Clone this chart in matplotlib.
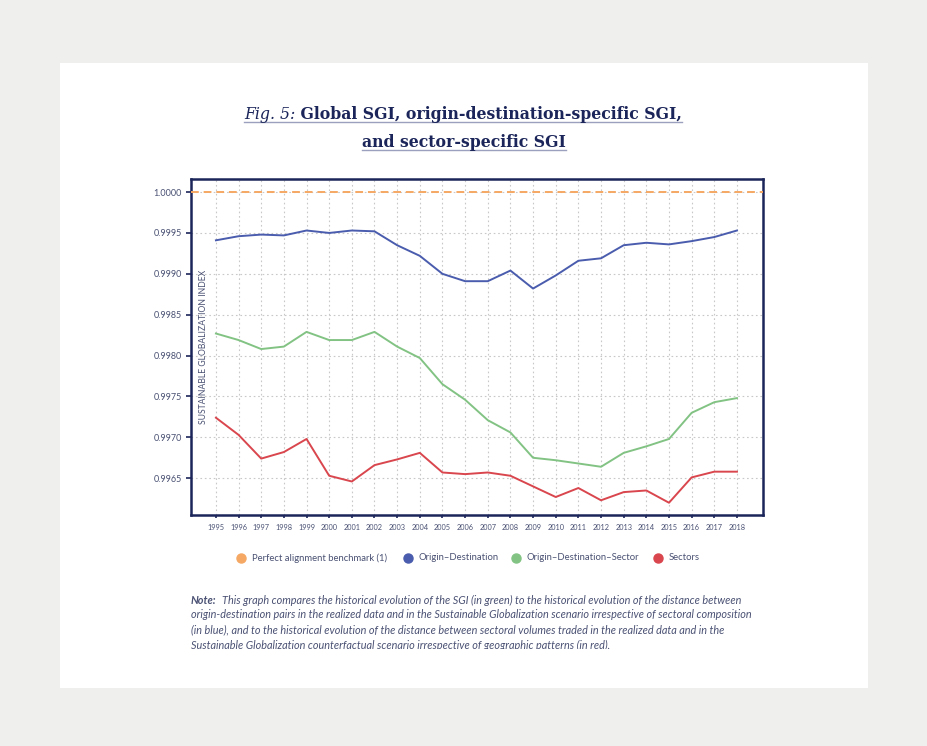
import numpy as np
import matplotlib
matplotlib.use("Agg")
import matplotlib.pyplot as plt
from matplotlib.patches import Rectangle
from matplotlib.lines import Line2D
from matplotlib.transforms import Bbox, TransformedBbox

years = list(range(1995, 2019))
origin_dest = [0.99941, 0.99946, 0.99948, 0.99947, 0.99953, 0.99950, 0.99953, 0.99952,
               0.99935, 0.99922, 0.99900, 0.99891, 0.99891, 0.99904, 0.99882, 0.99898,
               0.99916, 0.99919, 0.99935, 0.99938, 0.99936, 0.99940, 0.99945, 0.99953]
origin_dest_sector = [0.99827, 0.99819, 0.99808, 0.99811, 0.99829, 0.99819, 0.99819, 0.99829,
                      0.99811, 0.99797, 0.99765, 0.99746, 0.99721, 0.99706, 0.99675, 0.99672,
                      0.99668, 0.99664, 0.99681, 0.99689, 0.99698, 0.99730, 0.99743, 0.99748]
sectors = [0.99724, 0.99703, 0.99674, 0.99682, 0.99698, 0.99653, 0.99646, 0.99666,
           0.99673, 0.99681, 0.99657, 0.99655, 0.99657, 0.99653, 0.99640, 0.99627,
           0.99638, 0.99623, 0.99633, 0.99635, 0.99620, 0.99651, 0.99658, 0.99658]
benchmark = 1.0
yticks = [0.9965, 0.9970, 0.9975, 0.9980, 0.9985, 0.9990, 0.9995, 1.0000]
legend_labels = ["Perfect alignment benchmark (1)", "Origin\u2013Destination",
                 "Origin\u2013Destination\u2013Sector", "Sectors"]

navy = "#1b2559"
txtc = "#4a5173"
c_orange = "#f5a863"
c_blue = "#4a5cad"
c_green = "#82c384"
c_red = "#d9464d"

W, H = 928, 746
fig = plt.figure(figsize=(W / 100, H / 100), dpi=100)
fig.patch.set_facecolor("#efefed")
fig.add_artist(Rectangle((60 / W, 1 - 688 / H), (868 - 60) / W, (688 - 63) / H,
                         transform=fig.transFigure, facecolor="white", edgecolor="none", zorder=0))

ax = fig.add_axes([191 / W, 1 - 515 / H, (763 - 191) / W, (515 - 179) / H])
ax.set_xlim(1993.9, 2019.15)
ax.set_ylim(0.99605, 1.00016)

ax.axhline(benchmark, color=c_orange, lw=1.4, ls=(0, (4, 2.5)), zorder=3)
ax.plot(years, origin_dest, color=c_blue, lw=1.4, zorder=4)
ax.plot(years, origin_dest_sector, color=c_green, lw=1.4, zorder=4)
ax.plot(years, sectors, color=c_red, lw=1.4, zorder=4)

ax.set_xticks(years)
ax.set_xticklabels([str(y) for y in years], fontsize=5.3, color=txtc, family="Lato")
ax.set_yticks(yticks)
ax.set_yticklabels([f"{v:.4f}" for v in yticks], fontsize=6.5, color=txtc, family="Lato")
ax.tick_params(length=3.5, width=1.2, color=navy, pad=3)
ax.tick_params(axis="x", length=2.5, pad=4)
ax.grid(True, color="#c8c8c8", ls=(0, (1.5, 2.5)), lw=0.8)
for s in ax.spines.values():
    s.set_color(navy)
    s.set_linewidth(1.8)

ax.text(0.022, 0.5, "SUSTAINABLE GLOBALIZATION INDEX", transform=ax.transAxes, rotation=90,
        ha="center", va="center", fontsize=6.2, color=txtc, family="Lato")

# legend
leg_x = [241, 408, 516, 658]
for x, lab, c in zip(leg_x, legend_labels, [c_orange, c_blue, c_green, c_red]):
    fig.add_artist(Line2D([x / W], [1 - 558 / H], marker="o", ms=6.5, color=c, ls="",
                          transform=fig.transFigure))
    fig.text((x + 11) / W, 1 - 558 / H, lab, fontsize=6.8, color=txtc, family="Lato",
             va="center", ha="left")

# title
renderer = fig.canvas.get_renderer()
tfont = dict(family="DejaVu Serif", fontsize=11.3, color=navy)
y1 = 1 - 119 / H
a = fig.text(0, y1, "Fig. 5:", style="italic", **tfont)
b = fig.text(0, y1, " Global SGI, origin-destination-specific SGI,", weight="bold", **tfont)
wa = a.get_window_extent(renderer).width
wb = b.get_window_extent(renderer).width
x0 = 463 - (wa + wb) / 2
a.set_x(x0 / W)
b.set_x((x0 + wa) / W)
fig.add_artist(Line2D([x0 / W, (x0 + wa + wb) / W], [1 - 122 / H] * 2, color="#9aa0bd",
                      lw=1, transform=fig.transFigure))
y2 = 1 - 147 / H
c2 = fig.text(464 / W, y2, "and sector-specific SGI", weight="bold", ha="center", **tfont)
wc = c2.get_window_extent(renderer).width
fig.add_artist(Line2D([(464 - wc / 2) / W, (464 + wc / 2) / W], [1 - 150 / H] * 2,
                      color="#9aa0bd", lw=1, transform=fig.transFigure))

# note
nfont = dict(family="Lato", fontsize=7.8, color=txtc, style="italic")
n0 = fig.text(191 / W, 1 - 600 / H, "Note:", weight="bold", va="center", **nfont)
wn = n0.get_window_extent(renderer).width
note_lines = [
    "This graph compares the historical evolution of the SGI (in green) to the historical evolution of the distance between",
    "origin-destination pairs in the realized data and in the Sustainable Globalization scenario irrespective of sectoral composition",
    "(in blue), and to the historical evolution of the distance between sectoral volumes traded in the realized data and in the",
    "Sustainable Globalization counterfactual scenario irrespective of geographic patterns (in red).",
]
clip = TransformedBbox(Bbox([[0, 1 - 649 / H], [1, 1]]), fig.transFigure)
for i, line in enumerate(note_lines):
    xx = 191 + (wn + 5 if i == 0 else 0)
    t = fig.text(xx / W, 1 - (600 + 15 * i) / H, line, va="center", **nfont)
    t.set_clip_box(clip)
    t.set_clip_on(True)

fig.savefig("out.png", dpi=100, facecolor=fig.get_facecolor())
